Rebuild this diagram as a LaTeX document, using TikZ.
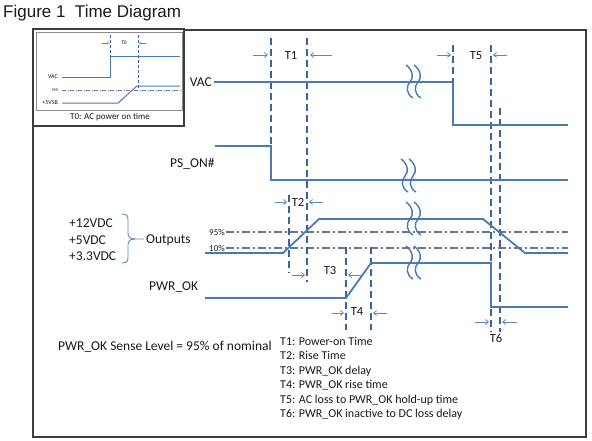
\documentclass[tikz,border=0pt]{standalone}
\usepackage{fontspec}
\setmainfont{Carlito}
\newfontfamily\titlefont{Liberation Sans}
\usetikzlibrary{arrows.meta}
\definecolor{sig}{RGB}{74,122,178}
\definecolor{dsh}{RGB}{60,100,152}
\definecolor{ddot}{RGB}{100,118,145}
\definecolor{arr}{RGB}{95,135,185}
\definecolor{frm}{RGB}{60,60,60}
\definecolor{txt}{RGB}{25,25,25}
\begin{document}
\begin{tikzpicture}[x=1pt,y=-1pt,
  sigline/.style={draw=sig,line width=1.8pt},
  guide/.style={draw=dsh,line width=1.8pt,dash pattern=on 7pt off 4pt},
  lvl/.style={draw=ddot,line width=1.4pt,dash pattern=on 8pt off 3pt on 2pt off 3pt},
  dimarr/.style={draw=arr,line width=0.8pt,-{Straight Barb[length=3pt,width=5pt]}},
  lab/.style={inner sep=0pt,text=txt,font=\fontsize{13.5}{16}\selectfont},
  tlab/.style={inner sep=0pt,text=txt,anchor=base,font=\fontsize{12.5}{15}\selectfont},
  leg/.style={inner sep=0pt,text=txt,anchor=base west,font=\fontsize{12}{14}\selectfont},
  tiny/.style={inner sep=0pt,text=txt},
  brk/.pic={
    \draw[sig,line width=1.4pt] (-8,-17) .. controls (-1,-12) and (0,-4) .. (-4,0) .. controls (-8,4) and (-8,12) .. (-1,16);
    \draw[sig,line width=1.4pt] (0,-17) .. controls (7,-12) and (8,-4) .. (4,0) .. controls (0,4) and (0,12) .. (7,16);
  }
]
\useasboundingbox (0,0) rectangle (592,440);
% title
\node[anchor=base west,inner sep=0pt,text=txt,font=\titlefont\fontsize{17}{20}\selectfont] (title) at (3,17) {Figure 1\ \ Time Diagram};
% frame
\draw[frm,line width=1.2pt] (33,30) rectangle (586,437);
% inset
\filldraw[fill=white,draw=frm,line width=1.2pt] (33,29) rectangle (184,126);
\draw[black!45,line width=0.6pt] (36,32) rectangle (182,110);
\draw[ddot,line width=0.7pt,dash pattern=on 4pt off 1.5pt on 1pt off 1.5pt] (62,90) -- (180,90);
\draw[sig,line width=1pt] (62,77) -- (110,77) -- (110,56) -- (180,56);
\draw[sig,line width=1pt] (62,103) -- (118,103) -- (137,86) -- (180,86);
\draw[dsh,line width=0.8pt,dash pattern=on 3pt off 2pt] (110,35) -- (110,56);
\draw[dsh,line width=0.8pt,dash pattern=on 3pt off 2pt] (138,35) -- (138,88);
\draw[arr,line width=0.5pt,-{Straight Barb[length=1.5pt,width=2.5pt]}] (102,43) -- (109,43);
\draw[arr,line width=0.5pt,-{Straight Barb[length=1.5pt,width=2.5pt]}] (146,43) -- (139,43);
\node[tiny,font=\fontsize{5.5}{6}\selectfont] (t0) at (124,43) {T0};
\node[tiny,anchor=east,font=\fontsize{6}{7}\selectfont] (ivac) at (58,77) {VAC};
\node[tiny,anchor=east,font=\fontsize{4}{5}\selectfont] (i95) at (59,90) {95\%};
\node[tiny,anchor=east,font=\fontsize{6}{7}\selectfont] (ivsb) at (58,103) {+5VSB};
\node[tiny,font=\fontsize{9}{10}\selectfont] (icap) at (110,117) {T0: AC power on time};
% levels
\draw[lvl] (226,232) -- (568,232);
\draw[lvl] (226,248) -- (568,248);
\node[tiny,anchor=east,font=\fontsize{9}{10}\selectfont] (l95) at (225,232) {95\%};
\node[tiny,anchor=east,font=\fontsize{9}{10}\selectfont] (l10) at (225,248) {10\%};
% guides
\draw[guide] (271,38) -- (271,146);
\draw[guide] (307,38) -- (307,282);
\draw[guide] (289,195) -- (289,273);
\draw[guide] (346,247) -- (346,330);
\draw[guide] (371,247) -- (371,330);
\draw[guide] (453,45) -- (453,82);
\draw[guide] (491,45) -- (491,332);
\draw[guide] (500,108) -- (500,332);
% signals
\draw[sigline] (214,82) -- (453,82) -- (453,125) -- (568,125);
\draw[sigline] (215,146) -- (271,146) -- (271,180) -- (568,180);
\draw[sigline] (205,253) -- (283,253) -- (319,219) -- (483,219) -- (525,253) -- (568,253);
\draw[sigline] (205,298) -- (346,298) -- (371,263) -- (491,263) -- (491,307) -- (568,307);
% breaks
\pic at (414,82) {brk};
\pic at (409,176) {brk};
\pic at (414,219) {brk};
\pic at (414,263) {brk};
% dimension arrows
\draw[dimarr] (253,55) -- (268,55);
\draw[dimarr] (332,55) -- (310,55);
\draw[dimarr] (275,202) -- (287,202);
\draw[dimarr] (323,202) -- (309,202);
\draw[dimarr] (292,275) -- (305,275);
\draw[dimarr] (362,275) -- (348,275);
\draw[dimarr] (332,313) -- (344,313);
\draw[dimarr] (387,313) -- (373,313);
\draw[dimarr] (437,55) -- (451,55);
\draw[dimarr] (507,55) -- (493,55);
\draw[dimarr] (475,322) -- (489,322);
\draw[dimarr] (517,322) -- (502,322);
% T labels
\node[tlab] (T1) at (291,59) {T1};
\node[tlab] (T2) at (298,206) {T2};
\node[tlab] (T3) at (330,274) {T3};
\node[tlab] (T4) at (357,315) {T4};
\node[tlab] (T5) at (476,59) {T5};
\node[tlab] (T6) at (496,342) {T6};
% signal labels
\node[lab,anchor=base east] (vac) at (212,86.5) {VAC};
\node[lab,anchor=base west] (pson) at (170,167.5) {PS\_ON\#};
\node[lab,anchor=base west] (v12) at (69,227.5) {+12VDC};
\node[lab,anchor=base west] (v5) at (69,244) {+5VDC};
\node[lab,anchor=base west] (v33) at (69,260.5) {+3.3VDC};
\node[lab,anchor=base west] (outs) at (146,243.5) {Outputs};
\node[lab,anchor=base west] (pwrok) at (149,290.5) {PWR\_OK};
\draw[draw=arr,line width=0.9pt] (122,214) .. controls (127,214) and (128,216) .. (128,220) -- (128,233) .. controls (128,237) and (130,239) .. (135,239) -- (144,239);
\draw[draw=arr,line width=0.9pt] (135,239) .. controls (130,239) and (128,241) .. (128,245) -- (128,257) .. controls (128,261) and (127,263) .. (122,263);
% notes
\node[lab,anchor=base west] (sense) at (58,350) {PWR\_OK Sense Level = 95\% of nominal};
\node[leg] (g1) at (280,345) {T1: Power-on Time};
\node[leg] (g2) at (280,359.5) {T2: Rise Time};
\node[leg] (g3) at (280,374) {T3: PWR\_OK delay};
\node[leg] (g4) at (280,388.5) {T4: PWR\_OK rise time};
\node[leg] (g5) at (280,403) {T5: AC loss to PWR\_OK hold-up time};
\node[leg] (g6) at (280,417.5) {T6: PWR\_OK inactive to DC loss delay};
\end{tikzpicture}
\end{document}
